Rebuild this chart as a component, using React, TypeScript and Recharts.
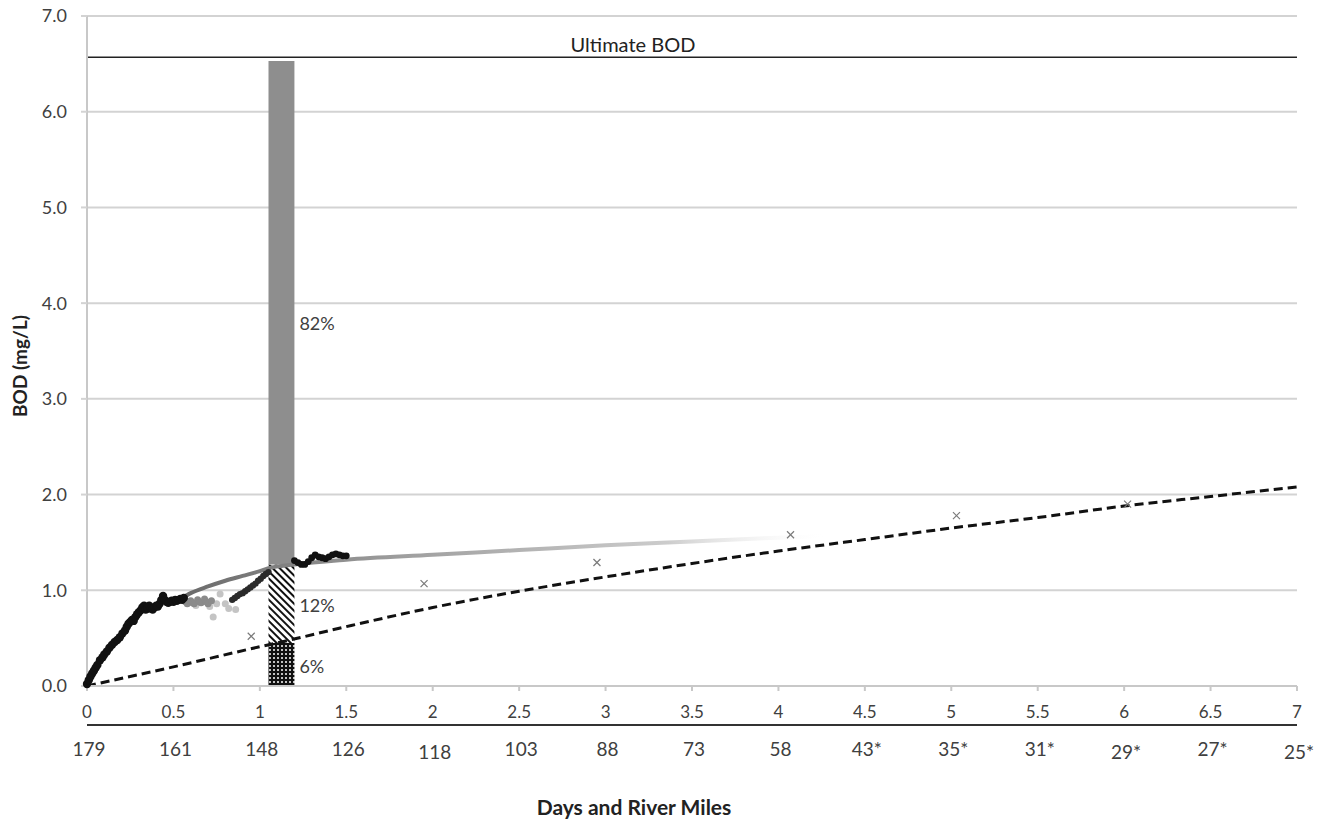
import React from 'react';
import {
  ComposedChart,
  Line,
  Scatter,
  XAxis,
  YAxis,
  CartesianGrid,
  ReferenceLine,
  ReferenceArea,
} from 'recharts';

// days (x axis) and the river mile reached on each tick
const dayTicks = [0, 0.5, 1, 1.5, 2, 2.5, 3, 3.5, 4, 4.5, 5, 5.5, 6, 6.5, 7];
const riverMiles = ['179', '161', '148', '126', '118', '103', '88', '73', '58', '43*', '35*', '31*', '29*', '27*', '25*'];
const bodTicks = [0, 1, 2, 3, 4, 5, 6, 7];

// continuous BOD record (x = days, y = mg/L)
const bodObserved = [
  [0, 0.02], [0.01, 0.06], [0.02, 0.1], [0.03, 0.13], [0.04, 0.16], [0.05, 0.19], [0.06, 0.22],
  [0.075, 0.27], [0.09, 0.3], [0.1, 0.33], [0.115, 0.36], [0.13, 0.4], [0.145, 0.43], [0.16, 0.46],
  [0.175, 0.48], [0.19, 0.51], [0.205, 0.55], [0.22, 0.58], [0.23, 0.62], [0.24, 0.65], [0.25, 0.67],
  [0.26, 0.69], [0.27, 0.68], [0.28, 0.72], [0.29, 0.75], [0.3, 0.77], [0.31, 0.79], [0.32, 0.82],
  [0.33, 0.84], [0.34, 0.8], [0.35, 0.81], [0.36, 0.84], [0.37, 0.81], [0.38, 0.8], [0.39, 0.82],
  [0.4, 0.84], [0.41, 0.83], [0.42, 0.86], [0.43, 0.9], [0.44, 0.94], [0.45, 0.9], [0.46, 0.88],
  [0.47, 0.87], [0.48, 0.88], [0.49, 0.89], [0.5, 0.88], [0.51, 0.9], [0.52, 0.89], [0.53, 0.9],
  [0.54, 0.91], [0.55, 0.9], [0.56, 0.92],
];
const bodScattered = [
  [0.57, 0.88], [0.58, 0.86], [0.6, 0.89], [0.61, 0.87], [0.62, 0.86], [0.64, 0.9], [0.65, 0.88],
  [0.66, 0.87], [0.68, 0.91], [0.69, 0.88], [0.7, 0.86], [0.72, 0.89],
];
const bodFaint = [
  [0.63, 0.84], [0.71, 0.83], [0.73, 0.72], [0.75, 0.86], [0.77, 0.96], [0.8, 0.86], [0.82, 0.81], [0.86, 0.8],
];
const bodRecovery = [
  [0.84, 0.9], [0.855, 0.92], [0.87, 0.94], [0.885, 0.96], [0.9, 0.97], [0.915, 0.99], [0.93, 1.01],
  [0.945, 1.03], [0.96, 1.05], [0.975, 1.07], [0.99, 1.1], [1.005, 1.12], [1.02, 1.15], [1.035, 1.17],
  [1.05, 1.19],
];
const bodAfterBar = [
  [1.2, 1.31], [1.22, 1.29], [1.24, 1.27], [1.26, 1.27], [1.28, 1.3], [1.3, 1.34], [1.32, 1.37],
  [1.34, 1.35], [1.36, 1.34], [1.38, 1.33], [1.4, 1.35], [1.42, 1.37], [1.44, 1.38], [1.46, 1.37],
  [1.48, 1.36], [1.5, 1.36],
];

// fitted trend (gray) and dashed curve
const bodTrend = [
  [0.55, 0.92], [0.6, 0.97], [0.7, 1.04], [0.8, 1.1], [0.9, 1.15], [1.0, 1.2], [1.05, 1.23], [1.2, 1.27],
  [1.5, 1.32], [2, 1.37], [2.5, 1.42], [3, 1.47], [3.5, 1.51], [4, 1.55], [4.3, 1.57],
];
const bodDashed = [
  [0, 0], [0.5, 0.2], [1, 0.41], [1.1, 0.45], [1.5, 0.62], [2, 0.82], [2.5, 0.99], [3, 1.14],
  [3.5, 1.28], [4, 1.41], [4.5, 1.53], [5, 1.65], [5.5, 1.76], [6, 1.88], [6.5, 1.98], [7, 2.08],
];
// river samples
const bodSamples = [[0.95, 0.52], [1.95, 1.07], [2.95, 1.29], [4.07, 1.58], [5.03, 1.78], [6.02, 1.9]];

const ultimateBod = 6.57;
const barDays = [1.05, 1.2];
const barSegments = [
  { from: 0, to: 0.45, label: '6%', fill: 'url(#bodDots)' },
  { from: 0.45, to: 1.27, label: '12%', fill: 'url(#bodHatch)' },
  { from: 1.27, to: 6.53, label: '82%', fill: '#8e8e8e' },
];

const pts = (arr: number[][]) => arr.map(([x, y]) => ({ x, y }));

const textColor = '#404040';
const lowered = new Set(['118', '29*', '25*']);

// day label with the river mile printed under the second axis line
const DayTick = (props: any) => {
  const { x, y, payload } = props;
  const miles = riverMiles[dayTicks.indexOf(payload.value)];
  return (
    <g>
      <text x={x} y={y} dy="0.71em" textAnchor="middle" fill={textColor} fontSize={17}>
        {String(payload.value)}
      </text>
      <text x={x + 2} y={y + 37 + (lowered.has(miles) ? 3 : 0)} dy="0.71em" textAnchor="middle" fill={textColor} fontSize={19}>
        {miles}
      </text>
    </g>
  );
};

const dot = (r: number, fill: string) => (p: any) => <circle cx={p.cx} cy={p.cy} r={r} fill={fill} />;

const crossMark = (p: any) => (
  <g stroke="#7a7a7a" strokeWidth={1.2}>
    <line x1={p.cx - 3.5} y1={p.cy - 3.5} x2={p.cx + 3.5} y2={p.cy + 3.5} />
    <line x1={p.cx - 3.5} y1={p.cy + 3.5} x2={p.cx + 3.5} y2={p.cy - 3.5} />
  </g>
);

export default function App() {
  return (
    <div style={{ position: 'absolute', left: 0, top: 0, width: 1320, height: 834, background: '#fff', fontFamily: 'Lato, "Open Sans", sans-serif' }}>
      <svg width={0} height={0} style={{ position: 'absolute' }}>
        <defs>
          <pattern id="bodHatch" patternUnits="userSpaceOnUse" width={5} height={5} patternTransform="rotate(-45)">
            <rect width={5} height={5} fill="#fff" />
            <line x1={1} y1={0} x2={1} y2={5} stroke="#111" strokeWidth={2} />
          </pattern>
          <pattern id="bodDots" patternUnits="userSpaceOnUse" width={4} height={4}>
            <rect width={4} height={4} fill="#111" />
            <circle cx={2} cy={2} r={1} fill="#fff" />
          </pattern>
          <linearGradient id="trendFade" x1="0" y1="0" x2="1" y2="0">
            <stop offset="0%" stopColor="#6a6a6a" />
            <stop offset="15%" stopColor="#808080" />
            <stop offset="35%" stopColor="#a0a0a0" />
            <stop offset="75%" stopColor="#cccccc" />
            <stop offset="100%" stopColor="#ffffff" stopOpacity={0} />
          </linearGradient>
        </defs>
      </svg>
      <ComposedChart width={1320} height={834} margin={{ top: 16, right: 23, bottom: 0, left: 0 }}>
        <CartesianGrid vertical={false} stroke="#d3d3d3" strokeWidth={2} />
        <XAxis
          dataKey="x"
          type="number"
          domain={[0, 7]}
          ticks={dayTicks}
          height={39}
          axisLine={{ stroke: '#c8c8c8', strokeWidth: 2 }}
          tickLine={{ stroke: '#c8c8c8', strokeWidth: 2 }}
          tickSize={5}
          tickMargin={15}
          tick={<DayTick />}
        />
        <XAxis
          xAxisId="rm"
          dataKey="x"
          type="number"
          domain={[0, 7]}
          ticks={dayTicks}
          height={109}
          axisLine={{ stroke: '#333', strokeWidth: 2 }}
          tickLine={false}
          tick={false}
          label={{ value: 'Days and River Miles', position: 'insideBottom', offset: 19, dx: -58, fill: '#222', fontSize: 21, fontWeight: 'bold' }}
        />
        <YAxis
          dataKey="y"
          type="number"
          domain={[0, 7]}
          ticks={bodTicks}
          width={87}
          axisLine={{ stroke: '#c8c8c8', strokeWidth: 2 }}
          tickLine={{ stroke: '#d3d3d3', strokeWidth: 2 }}
          tickSize={6}
          tickMargin={14}
          tick={{ fill: textColor, fontSize: 18 }}
          tickFormatter={(v: number) => v.toFixed(1)}
          label={{ value: 'BOD (mg/L)', angle: -90, position: 'insideLeft', offset: 20, dy: 15, fill: '#222', fontSize: 19, fontWeight: 'bold', style: { textAnchor: 'middle' } }}
        />
        <ReferenceLine
          y={ultimateBod}
          stroke="#222"
          strokeWidth={1.5}
          label={{ value: 'Ultimate BOD', position: 'top', offset: 5, dx: -59, fill: '#222', fontSize: 20 }}
        />
        {barSegments.map((s) => (
          <ReferenceArea
            key={s.label}
            x1={barDays[0]}
            x2={barDays[1]}
            y1={s.from}
            y2={s.to}
            fill={s.fill}
            fillOpacity={1}
            stroke="none"
            label={{ value: s.label, position: 'right', offset: 5, dy: s.to - s.from > 2 ? 11 : 2, fill: textColor, fontSize: 18 }}
          />
        ))}
        <Line data={pts(bodTrend)} dataKey="y" type="monotone" stroke="url(#trendFade)" strokeWidth={4} dot={false} isAnimationActive={false} />
        <Line data={pts(bodDashed)} dataKey="y" type="monotone" stroke="#111" strokeWidth={3} strokeDasharray="9 5" dot={false} isAnimationActive={false} />
        <Scatter data={pts(bodFaint)} fill="#c4c4c4" shape={dot(3.5, '#c4c4c4')} isAnimationActive={false} />
        <Scatter data={pts(bodScattered)} fill="#8a8a8a" shape={dot(3.5, '#8a8a8a')} isAnimationActive={false} />
        <Scatter data={pts(bodObserved)} fill="#111" shape={dot(4.2, '#111')} isAnimationActive={false} />
        <Scatter data={pts(bodRecovery)} fill="#2a2a2a" shape={dot(3.2, '#2a2a2a')} isAnimationActive={false} />
        <Scatter data={pts(bodAfterBar)} fill="#111" shape={dot(3.4, '#111')} isAnimationActive={false} />
        <Scatter data={pts(bodSamples)} fill="#7a7a7a" shape={crossMark} isAnimationActive={false} />
      </ComposedChart>
    </div>
  );
}
